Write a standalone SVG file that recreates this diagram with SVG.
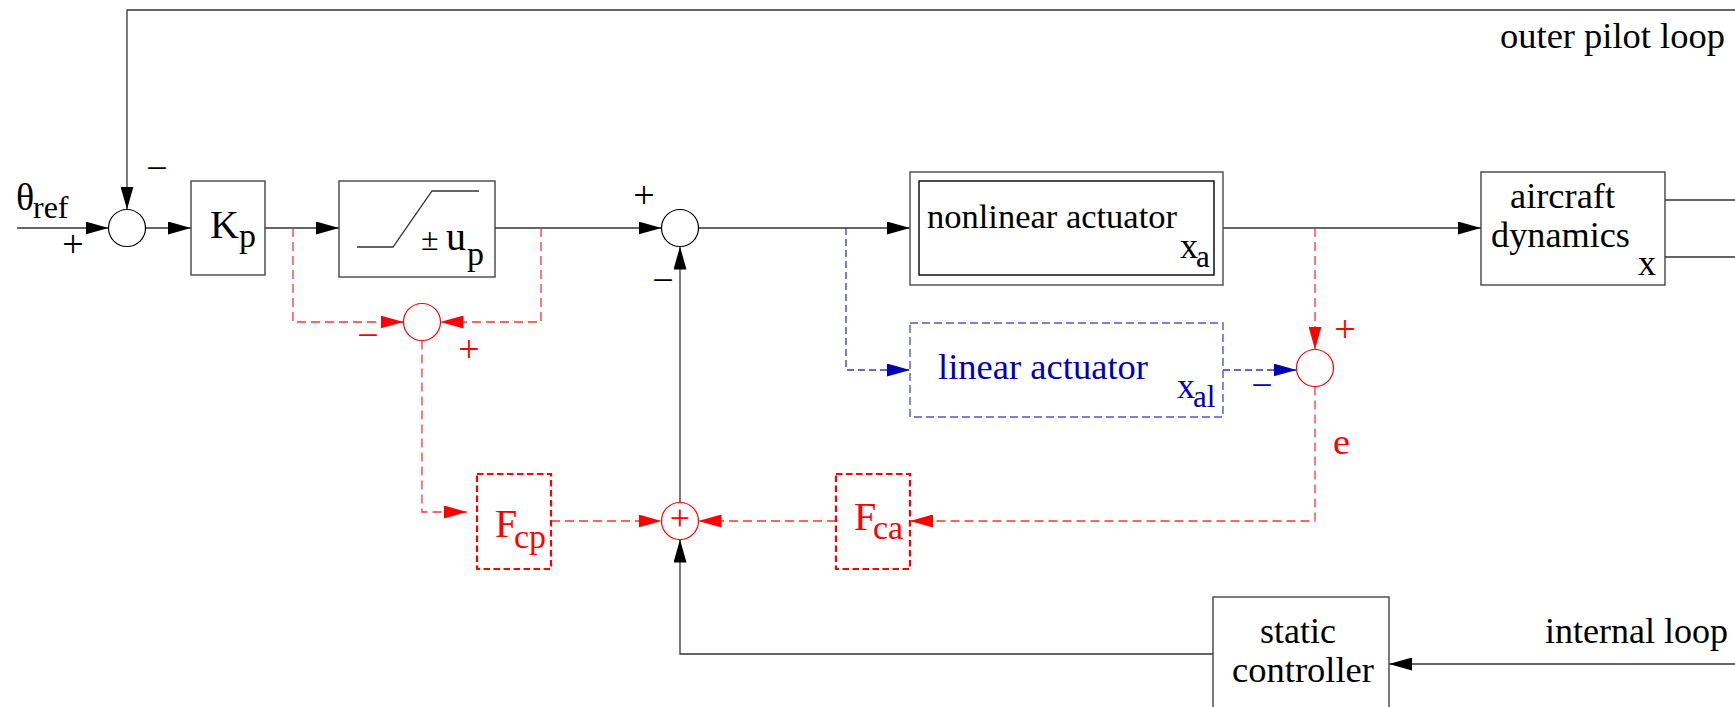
<svg xmlns="http://www.w3.org/2000/svg" width="1735" height="707" viewBox="0 0 1735 707">
<style>
.ln{stroke:#333;stroke-width:1.3;fill:none}
.rd{stroke:#f33;stroke-width:1.3;fill:none;stroke-dasharray:9 5}
.bd{stroke:#33c;stroke-width:1.3;fill:none;stroke-dasharray:7 4}
.box{fill:none;stroke:#444;stroke-width:1.4}
.rbox{fill:none;stroke:#f00;stroke-width:2.2;stroke-dasharray:6.5 3.5}
.bbox{fill:none;stroke:#55c;stroke-width:1.4;stroke-dasharray:8 4}
.sum{fill:#fff;stroke:#000;stroke-width:1.2}
.rsum{fill:#fff;stroke:#f00;stroke-width:1.2}
text{font-family:"Liberation Serif","Times New Roman",serif;font-size:36px;fill:#000}
.sg{font-size:38px;text-anchor:middle}
.r{fill:#f00}
.b{fill:#0000b0}
.s{font-size:31px}
</style>
<defs>
<marker id="ab" markerUnits="userSpaceOnUse" viewBox="0 0 23 13" markerWidth="23" markerHeight="13" refX="23" refY="6.5" orient="auto"><path d="M0,0L23,6.5L0,13z" fill="#000"/></marker>
<marker id="ar" markerUnits="userSpaceOnUse" viewBox="0 0 23 13" markerWidth="23" markerHeight="13" refX="23" refY="6.5" orient="auto"><path d="M0,0L23,6.5L0,13z" fill="#f00"/></marker>
<marker id="abl" markerUnits="userSpaceOnUse" viewBox="0 0 23 13" markerWidth="23" markerHeight="13" refX="23" refY="6.5" orient="auto"><path d="M0,0L23,6.5L0,13z" fill="#0000b4"/></marker>
</defs>

<g id="connectors">
<path class="ln" d="M17,228H108.5" marker-end="url(#ab)"/>
<path class="ln" d="M1735,10H127V209.5" marker-end="url(#ab)"/>
<path class="ln" d="M145.5,228H191" marker-end="url(#ab)"/>
<path class="ln" d="M265,228H339" marker-end="url(#ab)"/>
<path class="ln" d="M495,228H661.5" marker-end="url(#ab)"/>
<path class="ln" d="M698.5,228H910" marker-end="url(#ab)"/>
<path class="ln" d="M1223,228H1481" marker-end="url(#ab)"/>
<path class="ln" d="M1665,200H1735M1665,257H1735"/>
<path class="ln" d="M680,502.5V246.5" marker-end="url(#ab)"/>
<path class="ln" d="M1213,654H680V539.5" marker-end="url(#ab)"/>
<path class="ln" d="M1735,664H1389" marker-end="url(#ab)"/>
<path class="rd" d="M293,228V322H403.5" marker-end="url(#ar)"/>
<path class="rd" d="M541,228V322H440.5" marker-end="url(#ar)"/>
<path class="rd" d="M422,340.5V512H467" marker-end="url(#ar)"/>
<path class="rd" d="M551,521H661.5" marker-end="url(#ar)"/>
<path class="rd" d="M836,521H698.5" marker-end="url(#ar)"/>
<path class="rd" d="M1315,228V349.5" marker-end="url(#ar)"/>
<path class="rd" d="M1315,386.5V521H910" marker-end="url(#ar)"/>
<path class="bd" d="M846,228V370H910" marker-end="url(#abl)"/>
<path class="bd" d="M1223,370H1296.5" marker-end="url(#abl)"/>
</g>

<g id="sum-input">
<circle class="sum" cx="127" cy="228" r="18.5"/>
<text class="sg" x="157" y="181">−</text>
<text class="sg" x="73" y="257">+</text>
</g>

<g id="theta-ref">
<text x="16" y="210" style="font-size:38px">θ<tspan x="33" y="218" style="font-size:32px">ref</tspan></text>
</g>

<g id="kp">
<rect class="box" x="191" y="181" width="74" height="94"/>
<text x="210" y="238" style="font-size:40px">K<tspan x="239" y="247" style="font-size:34px">p</tspan></text>
</g>

<g id="saturation">
<rect class="box" x="339" y="181" width="156" height="96"/>
<polyline class="ln" points="357,247 393,247 432,191 479,191"/>
<text x="421" y="250" style="font-size:32px">±<tspan x="446" style="font-size:40px">u</tspan><tspan x="467" y="265" style="font-size:34px">p</tspan></text>
</g>

<g id="sum-main">
<circle class="sum" cx="680" cy="228" r="18.5"/>
<text class="sg" x="644" y="208">+</text>
<text class="sg" x="663" y="293">−</text>
</g>

<g id="nonlinear-actuator">
<rect x="910" y="172" width="313" height="113" fill="none" stroke="#555" stroke-width="1.5"/>
<rect x="919" y="181" width="295" height="94" fill="none" stroke="#111" stroke-width="1.5"/>
<text x="927" y="228" style="font-size:34.5px">nonlinear actuator</text>
<text x="1180" y="258">x<tspan class="s" x="1196" y="267">a</tspan></text>
</g>

<g id="aircraft-dynamics">
<rect class="box" x="1481" y="172" width="184" height="113"/>
<text x="1510" y="208" textLength="105" lengthAdjust="spacingAndGlyphs">aircraft</text>
<text x="1491" y="247" textLength="139" lengthAdjust="spacingAndGlyphs">dynamics</text>
<text x="1638" y="275" textLength="18" lengthAdjust="spacingAndGlyphs">x</text>
</g>

<g id="outer-loop-label">
<text x="1500" y="48" textLength="225" lengthAdjust="spacingAndGlyphs">outer pilot loop</text>
</g>

<g id="sum-err-p">
<circle class="rsum" cx="422" cy="322" r="18.5"/>
<text class="sg r" x="368" y="348">−</text>
<text class="sg r" x="469" y="362">+</text>
</g>

<g id="linear-actuator">
<rect class="bbox" x="910" y="323" width="313" height="94"/>
<text class="b" x="938" y="379" textLength="210" lengthAdjust="spacingAndGlyphs">linear actuator</text>
<text class="b" x="1177" y="398">x<tspan class="s" x="1193" y="407">al</tspan></text>
</g>

<g id="sum-err-a">
<circle class="rsum" cx="1315" cy="368" r="18.5"/>
<text class="sg r" x="1345" y="342">+</text>
<text class="sg b" x="1262" y="398">−</text>
<text class="r" x="1333" y="454" textLength="17" lengthAdjust="spacingAndGlyphs">e</text>
</g>

<g id="Fcp">
<rect class="rbox" x="477" y="474" width="74" height="95"/>
<text class="r" x="495" y="537" style="font-size:40px">F<tspan x="514" y="548" style="font-size:34px">cp</tspan></text>
</g>

<g id="Fca">
<rect class="rbox" x="836" y="474" width="74" height="95"/>
<text class="r" x="854" y="530" style="font-size:40px">F<tspan x="873" y="539" style="font-size:34px">ca</tspan></text>
</g>

<g id="sum-comp">
<circle class="rsum" cx="680" cy="521" r="18.5"/>
<text class="sg r" x="680" y="530" style="font-size:36px">+</text>
</g>

<g id="static-controller">
<rect class="box" x="1213" y="597" width="176" height="125"/>
<text x="1260" y="643" textLength="76" lengthAdjust="spacingAndGlyphs">static</text>
<text x="1232" y="682" textLength="142" lengthAdjust="spacingAndGlyphs">controller</text>
</g>

<g id="internal-loop-label">
<text x="1545" y="643" textLength="183" lengthAdjust="spacingAndGlyphs">internal loop</text>
</g>
</svg>
